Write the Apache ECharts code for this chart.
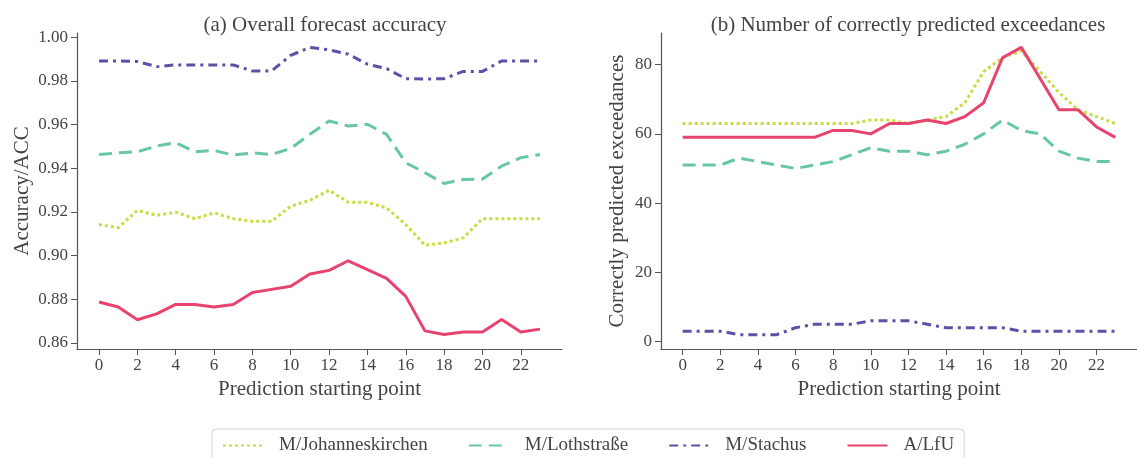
<!DOCTYPE html>
<html>
<head>
<meta charset="utf-8">
<script src="https://cdn.jsdelivr.net/npm/echarts@6/dist/echarts.min.js"></script>
<style>
  html, body { margin: 0; padding: 0; background: #fff; }
  #chart { width: 1137px; height: 458px; }
</style>
</head>
<body>
<div id="chart"></div>
<script>
var steps = [0,1,2,3,4,5,6,7,8,9,10,11,12,13,14,15,16,17,18,19,20,21,22,23];
var xTicks = [0,2,4,6,8,10,12,14,16,18,20,22];
var accTicks = [0.86,0.88,0.90,0.92,0.94,0.96,0.98,1.00];
var cntTicks = [0,20,40,60,80];
var names = ['M/Johanneskirchen', 'M/Lothstraße', 'M/Stachus', 'A/LfU'];

// (a) accuracy
var johAcc = [0.9142,0.9127,0.9207,0.9184,0.9198,0.9169,0.9195,0.9169,0.9157,0.9157,0.9226,0.9253,0.9299,0.9244,0.9244,0.9218,0.9142,0.9047,0.9058,0.9081,0.9169,0.9169,0.9169,0.9169];
var lothAcc = [0.9463,0.9470,0.9475,0.9501,0.9517,0.9475,0.9481,0.9460,0.9470,0.9463,0.9490,0.9555,0.9616,0.9593,0.9601,0.9555,0.9425,0.9379,0.9330,0.9348,0.9350,0.9409,0.9448,0.9463];
var stachAcc = [0.9891,0.9891,0.9888,0.9865,0.9873,0.9873,0.9873,0.9873,0.9845,0.9845,0.9917,0.9953,0.9942,0.9922,0.9876,0.9856,0.9810,0.9808,0.9810,0.9843,0.9843,0.9891,0.9891,0.9891];
var lfuAcc = [0.8787,0.8764,0.8706,0.8733,0.8776,0.8776,0.8764,0.8776,0.8831,0.8845,0.8859,0.8915,0.8932,0.8976,0.8935,0.8895,0.8813,0.8655,0.8638,0.8650,0.8650,0.8707,0.8650,0.8663];

// (b) correctly predicted exceedances
var johCnt = [63,63,63,63,63,63,63,63,63,63,64,64,63,64,65,69,78,82,84,78,72,67,65,63];
var lothCnt = [51,51,51,53,52,51,50,51,52,54,56,55,55,54,55,57,60,64,61,60,55,53,52,52];
var stachCnt = [3,3,3,2,2,2,4,5,5,5,6,6,6,5,4,4,4,4,3,3,3,3,3,3];
var lfuCnt = [59,59,59,59,59,59,59,59,61,61,60,63,63,64,63,65,69,82,85,76,67,67,62,59];

var colors = ['#c7dd3f', '#68c7a3', '#5b52a8', '#e8436f'];
var dashes = [[3, 3], [13, 7], [9, 5, 3, 5], null];
var font = 'Liberation Serif';
var txt = '#444';

function pairs(vals) {
    return steps.map(function (s, i) { return [s, vals[i]]; });
}

function makeX(idx) {
    return {
        type: 'value', gridIndex: idx, min: -1.15, max: 24.15,
        name: 'Prediction starting point', nameLocation: 'middle', nameGap: 25,
        nameTextStyle: { fontFamily: font, fontSize: 21, color: txt },
        axisLine: { show: true, onZero: false, lineStyle: { color: '#555', width: 1.2 } },
        axisTick: { show: true, length: 6, customValues: xTicks, lineStyle: { color: '#555' } },
        axisLabel: { customValues: xTicks, margin: 8, fontFamily: font, fontSize: 17, color: txt },
        splitLine: { show: false }
    };
}

function makeY(idx, min, max, ticks, name, gap, fmt) {
    return {
        type: 'value', gridIndex: idx, min: min, max: max,
        name: name, nameLocation: 'middle', nameGap: gap,
        nameTextStyle: { fontFamily: font, fontSize: 21, color: txt },
        axisLine: { show: true, onZero: false, lineStyle: { color: '#555', width: 1.2 } },
        axisTick: { show: true, length: 6, customValues: ticks, lineStyle: { color: '#555' } },
        axisLabel: { customValues: ticks, margin: 9, fontFamily: font, fontSize: 17, color: txt, formatter: fmt },
        splitLine: { show: false }
    };
}

function line(i, vals, axis) {
    return {
        name: names[i], type: 'line', xAxisIndex: axis, yAxisIndex: axis,
        data: pairs(vals), symbol: 'none', animation: false,
        lineStyle: { color: colors[i], width: 3, type: dashes[i] || 'solid', cap: 'butt' },
        itemStyle: { color: colors[i] }
    };
}

var chart = echarts.init(document.getElementById('chart'));
chart.setOption({
    animation: false,
    title: [
        { text: '(a) Overall forecast accuracy', left: 320, top: 10, textAlign: 'center',
          textStyle: { fontFamily: font, fontSize: 21, fontWeight: 'normal', color: txt } },
        { text: '(b) Number of correctly predicted exceedances', left: 903, top: 10, textAlign: 'center',
          textStyle: { fontFamily: font, fontSize: 21, fontWeight: 'normal', color: txt } }
    ],
    grid: [
        { left: 77, top: 33, width: 485, height: 316 },
        { left: 661, top: 33, width: 484, height: 316 }
    ],
    xAxis: [makeX(0), makeX(1)],
    yAxis: [
        makeY(0, 0.8572, 1.0019, accTicks, 'Accuracy/ACC', 44, function (v) { return v.toFixed(2); }),
        makeY(1, -2.15, 89.15, cntTicks, 'Correctly predicted exceedances', 33, function (v) { return String(v); })
    ],
    legend: {
        data: names, left: 212, top: 429, orient: 'horizontal',
        padding: [7, 10, 14, 10], itemGap: 40, itemWidth: 40, itemHeight: 12,
        borderColor: '#d4d4d4', borderWidth: 1, borderRadius: 4,
        itemStyle: { opacity: 0 },
        textStyle: { fontFamily: font, fontSize: 19, color: txt, padding: [0, 0, 0, 11] }
    },
    series: [
        line(0, johAcc, 0), line(1, lothAcc, 0), line(2, stachAcc, 0), line(3, lfuAcc, 0),
        line(0, johCnt, 1), line(1, lothCnt, 1), line(2, stachCnt, 1), line(3, lfuCnt, 1)
    ]
});
</script>
</body>
</html>
